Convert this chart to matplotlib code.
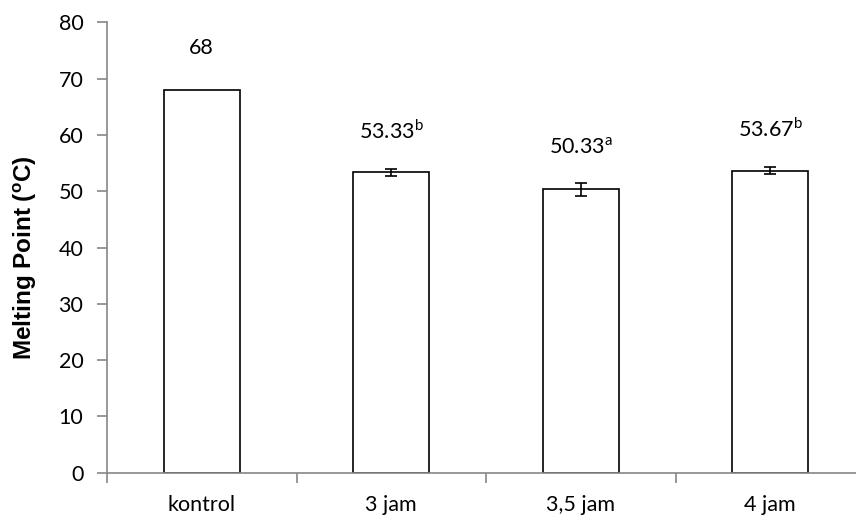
import matplotlib.pyplot as plt
import numpy as np

plt.rcParams["font.family"] = ["Lato", "DejaVu Sans"]
plt.rcParams["mathtext.fontset"] = "custom"
plt.rcParams["mathtext.rm"] = "Lato"
plt.rcParams["mathtext.bf"] = "Liberation Sans:bold"

categories = ["kontrol", "3 jam", "3,5 jam", "4 jam"]
melting = [68, 53.33, 50.33, 53.67]
errors = [0, 0.6, 1.2, 0.6]
labels = ["68", r"53.33$^{\mathrm{b}}$", r"50.33$^{\mathrm{a}}$", r"53.67$^{\mathrm{b}}$"]

axis_grey = "#868686"


def main() -> None:
    fig = plt.figure(figsize=(8.56, 5.21), dpi=100)
    ax = fig.add_axes([107 / 856, 48.3 / 521, 758 / 856, 450.4 / 521])
    x = np.arange(len(categories))

    ax.bar(x, melting, width=0.4, color="white", edgecolor="black", linewidth=1.2, zorder=2)
    for xi, m, e in zip(x, melting, errors):
        if e > 0:
            ax.errorbar(xi, m, yerr=e, fmt="none", ecolor="black", elinewidth=1.2,
                        capsize=4, capthick=1.2, zorder=3)
    for xi, m, lab in zip(x, melting, labels):
        ax.text(xi, m + 7.4, lab, ha="center", va="center", fontsize=15.5)

    ax.set_xlim(-0.5, len(categories) - 0.5)
    ax.set_ylim(0, 80)
    ax.set_yticks(range(0, 81, 10))
    ax.set_xticks(x)
    ax.set_xticklabels(categories)
    ax.set_xticks(np.arange(-0.5, len(categories), 1.0), minor=True)
    ax.tick_params(axis="x", which="major", length=0, pad=16, labelsize=15.5)
    ax.tick_params(axis="x", which="minor", length=7, color=axis_grey, width=1.2)
    ax.tick_params(axis="y", length=7, color=axis_grey, width=1.2, labelsize=15.5, pad=10)

    for side in ["top", "right"]:
        ax.spines[side].set_visible(False)
    for side in ["left", "bottom"]:
        ax.spines[side].set_color(axis_grey)
        ax.spines[side].set_linewidth(1.2)

    ax.set_ylabel(r"Melting Point ($\mathbf{^{o}}$C)", fontfamily="Liberation Sans",
                  fontweight="bold", fontsize=17.5, va="center")
    ax.yaxis.set_label_coords(-0.107, 0.477)

    fig.savefig("out.png", dpi=100)


if __name__ == "__main__":
    main()
